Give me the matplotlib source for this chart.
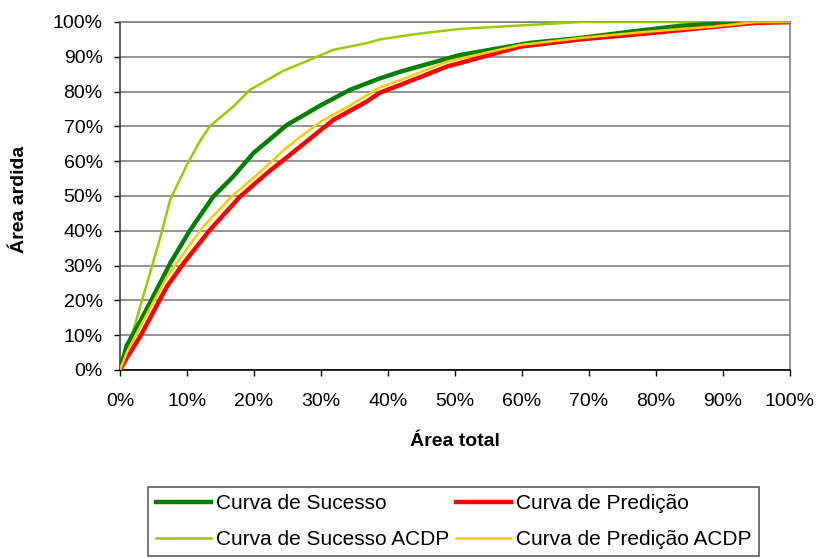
import matplotlib
matplotlib.use("Agg")
import matplotlib.pyplot as plt
from matplotlib.ticker import PercentFormatter, MultipleLocator

plt.rcParams['font.family'] = ['Liberation Sans', 'DejaVu Sans']

# curve values (x = area total %, y = area ardida %)
suc_x = [0, 1, 3, 6, 7.5, 10.4, 13.9, 16.9, 19.9, 24.9, 29.9, 34.3, 38.8, 41.8,
         50.7, 61.2, 68.7, 76.1, 83.6, 93.5, 100]
suc_y = [0, 7, 13.9, 25, 30.7, 40, 49.8, 55.6, 62.3, 70.4, 76, 80.5, 83.8, 85.7,
         90.5, 94, 95.4, 97.2, 98.9, 100, 100]

pred_x = [0, 1, 3, 7, 9.5, 13.4, 17.9, 21.9, 26.9, 31.8, 36.8, 38.8, 41.8, 48.8,
          59.7, 68.7, 78.6, 88.6, 94.5, 100]
pred_y = [0, 3.5, 9.6, 24, 30.7, 40.2, 49.8, 56.5, 64.2, 71.8, 77.1, 79.7, 81.9,
          87.2, 92.9, 95, 96.7, 98.6, 99.7, 100]

sucA_x = [0, 0.7, 2, 4.5, 6, 7.5, 10, 12, 13.4, 16.9, 19.4, 24.4, 29.4, 31.8,
          36.8, 38.8, 44.8, 50.7, 60.7, 68.7, 100]
sucA_y = [0, 4.5, 11.5, 28, 38, 49, 59, 66, 70, 75.7, 80.5, 86, 90, 92,
          93.9, 95, 96.7, 98, 99.1, 100, 100]

predA_x = [0, 1, 3, 7, 9.5, 12.4, 16.9, 20.4, 24.9, 29.9, 34.3, 38.8, 41.8, 48.8,
           59.7, 68.7, 78.6, 88.6, 95, 100]
predA_y = [0, 5, 12.4, 26.8, 33.5, 41.2, 50.3, 56, 64, 71.3, 76, 81.2, 83.3, 88.6,
           93.4, 95.4, 97.2, 98.7, 100, 100]

fig = plt.figure(figsize=(8.18, 5.59), dpi=100)
ax = fig.add_axes([120/818, 1-370/559, 670/818, 348/559])

ax.plot(sucA_x, sucA_y, color='#99CC00', lw=1.8, label='Curva de Sucesso ACDP', zorder=3)
ax.plot(suc_x, suc_y, color='#008000', lw=3.2, label='Curva de Sucesso', zorder=4)
ax.plot(pred_x, pred_y, color='#FF0000', lw=3.2, label='Curva de Predição', zorder=4)
ax.plot(predA_x, predA_y, color='#FFCC00', lw=1.8, label='Curva de Predição ACDP', zorder=5)

ax.set_xlim(0, 100)
ax.set_ylim(0, 100)
ax.xaxis.set_major_locator(MultipleLocator(10))
ax.yaxis.set_major_locator(MultipleLocator(10))
ax.xaxis.set_major_formatter(PercentFormatter(decimals=0))
ax.yaxis.set_major_formatter(PercentFormatter(decimals=0))
ax.tick_params(direction='out', length=4.5, width=1, labelsize=14, colors='black')
ax.tick_params(axis='x', pad=12)
ax.tick_params(axis='y', pad=8)

ax.grid(axis='y', color='#808080', lw=1.2)
ax.set_axisbelow(True)
ax.spines['left'].set_color('#404040')
ax.spines['bottom'].set_color('black')
ax.spines['right'].set_color('#808080')
ax.spines['top'].set_color('#808080')
for s in ax.spines.values():
    s.set_linewidth(1.2)

ax.set_xlabel('Área total', fontsize=14, fontweight='bold')
ax.set_ylabel('Área ardida', fontsize=14, fontweight='bold')
ax.xaxis.set_label_coords(0.5, -(442-370)/348)
ax.yaxis.set_label_coords(-(120-19)/670, 0.49)
ax.xaxis.label.set_va('center')
ax.yaxis.label.set_va('center')

handles, labels = ax.get_legend_handles_labels()
order = [1, 0, 2, 3]
leg = fig.legend([handles[i] for i in order], [labels[i] for i in order],
                 ncol=2, loc='upper center', bbox_to_anchor=(453.5/818, 1-487/559),
                 fontsize=15, frameon=True, fancybox=False, edgecolor='#333333',
                 handlelength=2.65, handletextpad=0.25, columnspacing=0.3,
                 borderpad=0.35, borderaxespad=0, labelspacing=0.8)
leg.get_frame().set_linewidth(1.2)

fig.savefig('out.png', dpi=100)
